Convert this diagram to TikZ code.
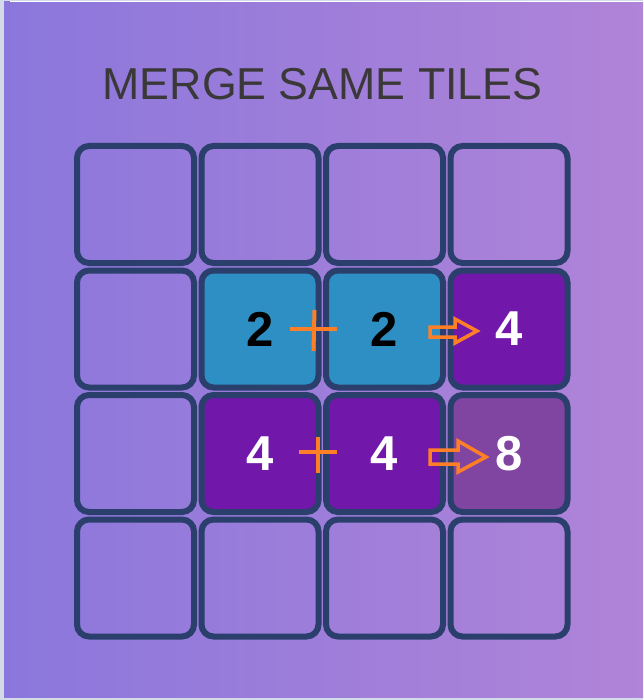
\documentclass[tikz,border=0pt]{standalone}
\usepackage{fontspec}
\setmainfont{Liberation Sans}
\definecolor{bgleft}{HTML}{8B77DC}
\definecolor{bgright}{HTML}{B084D8}
\definecolor{tileborder}{HTML}{2B3F6C}
\definecolor{tileblue}{HTML}{2E8FC4}
\definecolor{tilepurple}{HTML}{7117A9}
\definecolor{tilemauve}{HTML}{7F45A0}
\definecolor{titlegrey}{HTML}{3A3838}
\definecolor{mark}{HTML}{FF7F27}
\definecolor{frame}{HTML}{D3DAE8}
\tikzset{
  tile/.style={draw=tileborder, line width=6pt, rounded corners=12pt,
    minimum size=117pt, inner sep=0pt, font=\fontsize{49}{49}\selectfont\bfseries},
  plusmark/.style={draw=mark, line width=4pt},
  arrowmark/.style={draw=mark, line width=3.5pt, line join=miter},
}
\begin{document}
\begin{tikzpicture}[x=1pt,y=-1pt]
\useasboundingbox (0,0) rectangle (643,700);
\fill[frame] (0,0) rectangle (643,700);
\shade[left color=bgleft, right color=bgright] (4,2) rectangle (643,697);
\draw[white, line width=1pt] (10,1.5) -- (643,1.5);
\node[text=titlegrey, font=\fontsize{44.7}{44.7}\selectfont] (title) at (322.5,84) {MERGE SAME TILES};
% row 1
\node[tile] (t11) at (135.5,204.5) {};
\node[tile] (t12) at (260,204.5) {};
\node[tile] (t13) at (384.5,204.5) {};
\node[tile] (t14) at (509,204.5) {};
% row 2
\node[tile] (t21) at (135.5,329) {};
\node[tile, fill=tileblue, text=black] (t22) at (260,329) {2};
\node[tile, fill=tileblue, text=black] (t23) at (384.5,329) {2};
\node[tile, fill=tilepurple, text=white] (t24) at (509,329) {4};
% row 3
\node[tile] (t31) at (135.5,453.5) {};
\node[tile, fill=tilepurple, text=white] (t32) at (260,453.5) {4};
\node[tile, fill=tilepurple, text=white] (t33) at (384.5,453.5) {4};
\node[tile, fill=tilemauve, text=white] (t34) at (509,453.5) {8};
% row 4
\node[tile] (t41) at (135.5,578) {};
\node[tile] (t42) at (260,578) {};
\node[tile] (t43) at (384.5,578) {};
\node[tile] (t44) at (509,578) {};
% plus marks
\draw[plusmark] (290,329) -- (337,329);
\draw[plusmark] (314.5,310) -- (313.5,351);
\draw[plusmark] (299,452) -- (337,452);
\draw[plusmark] (318,437) -- (318,473);
% arrows
\draw[arrowmark] (430,327) -- (455,327) -- (455,319) -- (477,331) -- (455,343) -- (455,337) -- (430,337) -- cycle;
\draw[arrowmark] (430,450) -- (458,450) -- (458,441) -- (486,457) -- (458,472) -- (458,464) -- (430,464) -- cycle;
\end{tikzpicture}
\end{document}
